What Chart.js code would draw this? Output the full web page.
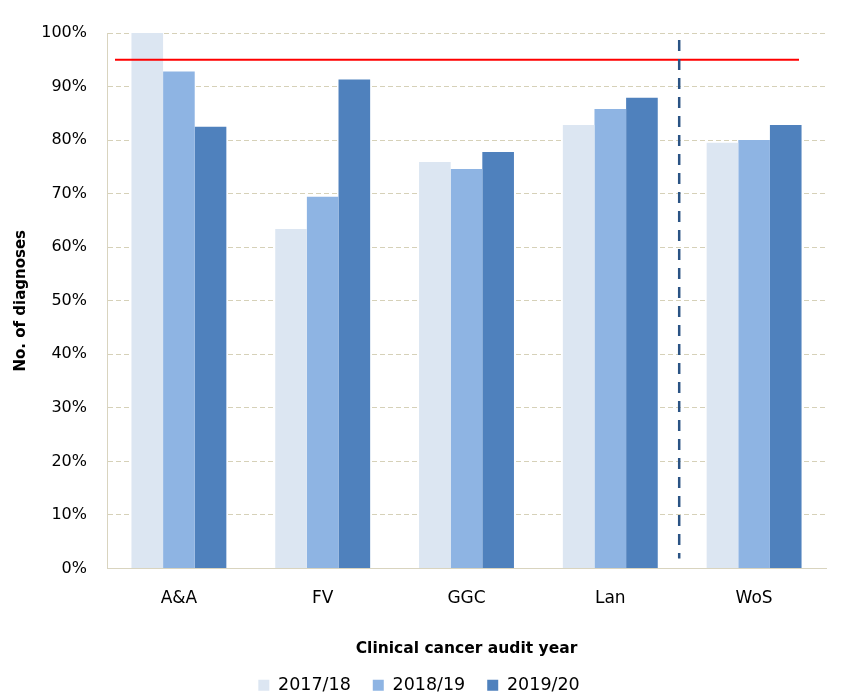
<!DOCTYPE html>
<html>
<head>
<meta charset="utf-8">
<script src="https://cdn.jsdelivr.net/npm/chart.js@4/dist/chart.umd.min.js"></script>
<style>
  html, body { margin: 0; padding: 0; background: #fff; }
  #wrap { width: 846px; height: 696px; }
</style>
</head>
<body>
<div id="wrap"><canvas id="chart"></canvas></div>
<script>
const areas = ["A&A", "FV", "GGC", "Lan", "WoS"];
const years = ["2017/18", "2018/19", "2019/20"];
const y2017 = [100, 63.4, 75.9, 82.8, 79.5];
const y2018 = [92.8, 69.4, 74.6, 85.8, 80.0];
const y2019 = [82.5, 91.3, 77.8, 87.9, 82.8];
const barColors = ["#DCE6F2", "#8EB4E3", "#4F81BD"];
const target = 95;
const dividerAfter = "Lan";

const font = "'DejaVu Sans', Verdana, sans-serif";

// red target line and the dashed divider before WoS
const overlay = {
  id: "overlay",
  afterDatasetsDraw(chart) {
    const { ctx, chartArea, scales } = chart;
    const y = scales.y.getPixelForValue(target);
    ctx.save();
    ctx.strokeStyle = "#FF0000";
    ctx.lineWidth = 2;
    ctx.beginPath();
    ctx.moveTo(chartArea.left + 8, y);
    ctx.lineTo(chartArea.right - 27, y);
    ctx.stroke();

    const i = areas.indexOf(dividerAfter);
    const x = (scales.x.getPixelForValue(i) + scales.x.getPixelForValue(i + 1)) / 2 - 3;
    ctx.strokeStyle = "#2A5384";
    ctx.lineWidth = 2.5;
    ctx.setLineDash([11, 8]);
    ctx.beginPath();
    ctx.moveTo(x, chartArea.top + 7);
    ctx.lineTo(x, chartArea.bottom - 10);
    ctx.stroke();
    ctx.restore();
  }
};

new Chart(document.getElementById("chart").getContext("2d"), {
  type: "bar",
  data: {
    labels: areas,
    datasets: [y2017, y2018, y2019].map((d, k) => ({
      label: years[k],
      data: d,
      backgroundColor: barColors[k],
      borderWidth: 0,
      categoryPercentage: 0.66,
      barPercentage: 1.0
    }))
  },
  options: {
    responsive: true,
    maintainAspectRatio: false,
    animation: false,
    layout: { padding: { left: 12, right: 20, top: 33, bottom: -8 } },
    plugins: {
      tooltip: { enabled: false },
      legend: {
        position: "bottom",
        labels: {
          font: { family: font, size: 17.5 },
          color: "#000",
          boxWidth: 11,
          boxHeight: 11,
          padding: 22
        }
      }
    },
    scales: {
      x: {
        grid: { display: false },
        border: { color: "#D9D4BF", width: 1 },
        ticks: { font: { family: font, size: 17 }, color: "#000", padding: 12 },
        title: {
          display: true,
          text: "Clinical cancer audit year",
          font: { family: font, size: 15.5, weight: "bold" },
          color: "#000",
          padding: { top: 19, bottom: -4 }
        }
      },
      y: {
        min: 0,
        max: 100,
        afterFit(s) { s.width = 95; },
        grid: { color: "#D6D1B8", drawTicks: false },
        border: { color: "#D9D4BF", dash: [5, 3] },
        ticks: {
          stepSize: 10,
          padding: 20,
          font: { family: font, size: 16 },
          color: "#000",
          callback: v => v + "%"
        },
        title: {
          display: true,
          text: "No. of diagnoses",
          font: { family: font, size: 15, weight: "bold" },
          color: "#000",
          padding: { top: 0, bottom: 4 }
        }
      }
    }
  },
  plugins: [overlay]
});
</script>
</body>
</html>
